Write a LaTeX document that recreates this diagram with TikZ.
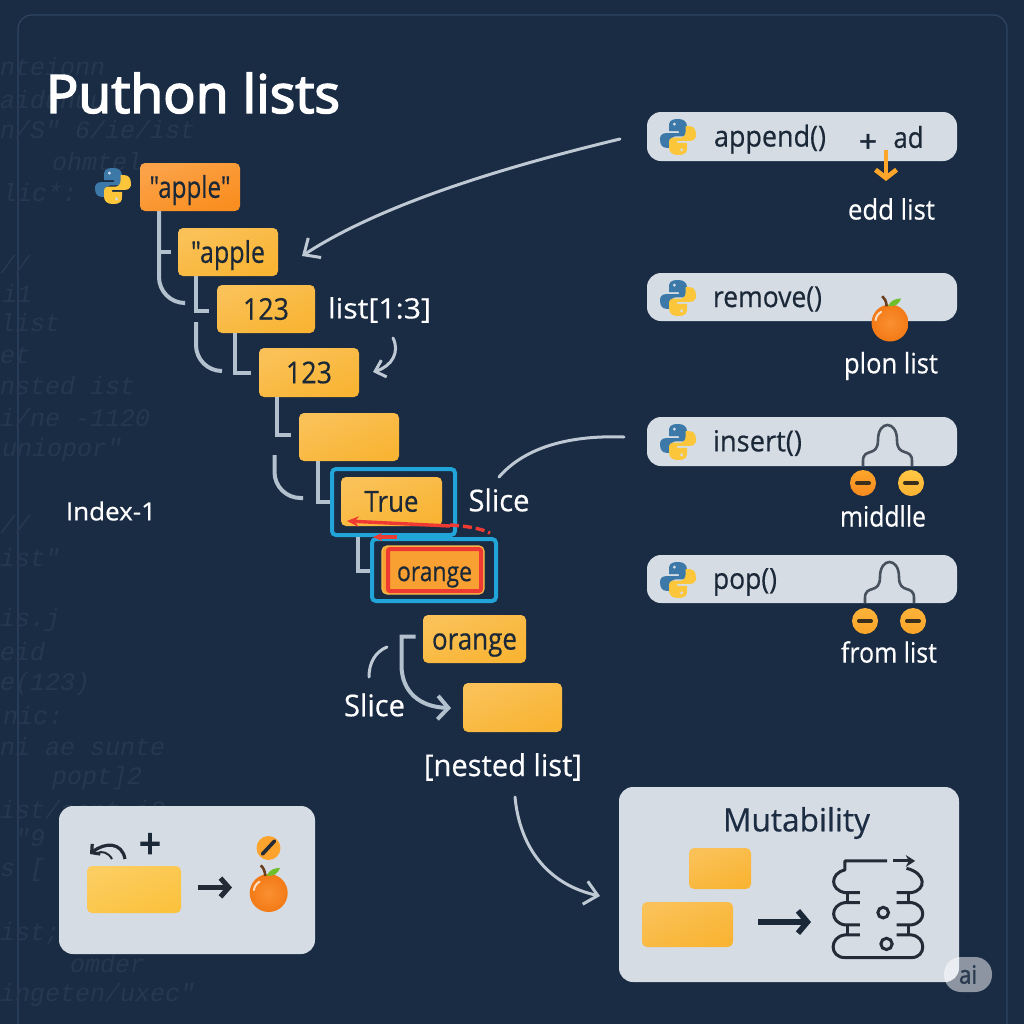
\documentclass[tikz,border=0pt]{standalone}
\usepackage{fontspec}
\usepackage{graphicx}
\newfontfamily\medf[FakeBold=0.5]{Open Sans}
\newfontfamily\heavyf[FakeBold=1.6]{Open Sans}
\newfontfamily\titlef[FakeBold=3]{Open Sans}
\newfontfamily\codefont{Liberation Mono}
\usetikzlibrary{arrows.meta,calc}
\newlength\px \setlength\px{0.03cm}
\newcommand\tx[3]{\resizebox{#1\px}{\height}{\medf\fontsize{#2\px}{#2\px}\selectfont #3}}
\newcommand\txh[3]{\resizebox{#1\px}{\height}{\heavyf\fontsize{#2\px}{#2\px}\selectfont #3}}
\newcommand\txt[3]{\resizebox{#1\px}{\height}{\titlef\fontsize{#2\px}{#2\px}\selectfont #3}}
\newsavebox\dnbox
\newcommand\dn[2]{\sbox\dnbox{#2}\hbox{\rule{0pt}{\dimexpr\ht\dnbox+2\dimexpr#1\px\relax\relax}\usebox\dnbox}}
\definecolor{bgc}{HTML}{1A2B44}
\definecolor{framec}{HTML}{2E4662}
\definecolor{codec}{HTML}{263850}
\definecolor{panelc}{HTML}{D5DCE4}
\definecolor{conn}{HTML}{B3C0CD}
\definecolor{inkc}{HTML}{1B2838}
\definecolor{blueb}{HTML}{21A5D8}
\definecolor{redb}{HTML}{EE3A33}
\definecolor{pyb}{HTML}{3C78A8}
\definecolor{pyy}{HTML}{FBC63A}
\definecolor{appleL}{HTML}{FB9030}
\definecolor{appleD}{HTML}{F27A16}
\definecolor{stemc}{HTML}{6B3F1E}
\definecolor{leafc}{HTML}{6FBF2C}
\definecolor{yelC}{HTML}{F9B433}
\definecolor{oraC}{HTML}{FA8E20}
\definecolor{oraF}{HTML}{F9A032}
\definecolor{oraE}{HTML}{F8BC4A}
\definecolor{arrowO}{HTML}{FBA52A}
\definecolor{iconK}{HTML}{222B36}
\definecolor{forkG}{HTML}{47525E}
\definecolor{minusK}{HTML}{3A2F1C}
\definecolor{dotOa}{HTML}{FDA52B}
\definecolor{dotOb}{HTML}{F58A1E}
\definecolor{dotYa}{HTML}{FFC845}
\definecolor{dotYb}{HTML}{FBB232}
\definecolor{dotMa}{HTML}{FCB23A}
\definecolor{dotMb}{HTML}{F9A528}
\definecolor{yelL}{HTML}{FBC23E}
\definecolor{dotS}{HTML}{FCA32E}
\definecolor{titleK}{HTML}{1C2C42}
\definecolor{arrK}{HTML}{1A2838}
\definecolor{aiK}{HTML}{2A3A50}
\tikzset{
 x=0.03cm,y=-0.03cm,
 code/.style={anchor=west,inner sep=0,text=codec,font=\codefont\itshape\fontsize{25\px}{25\px}\selectfont},
 ybox/.style={rounded corners=5\px,inner sep=0,text=inkc,top color=#1!82!white,bottom color=#1,shading angle=22},
 ybox/.default={yelC},
 sized/.style 2 args={minimum width=#1\px,minimum height=#2\px},
 panel/.style={rounded corners=14\px,fill=panelc,inner sep=0},
 wtext/.style={inner sep=0,text=white},
 dtext/.style={inner sep=0,text=inkc},
 link/.style={draw=conn,line width=4\px},
 thin link/.style={draw=conn!85!white,line width=3\px,line cap=round},
 open arrow/.style={-{Straight Barb[length=11pt,width=20pt]}},
 redline/.style={draw=redb,line width=3.4\px},
 iconline/.style={draw=#1,line width=2.6\px},
 iconline/.default={iconK},
 pics/pylogo/.style={code={
   \begin{scope}[scale=18]
   \foreach \rot/\col in {0/pyb,180/pyy}{
    \fill[\col,rotate=\rot] (0.02,-1) .. controls (-0.5,-1) and (-0.5,-0.8) .. (-0.5,-0.55) -- (-0.5,-0.32) -- (0.05,-0.32) -- (0.05,-0.22) -- (-0.65,-0.22) .. controls (-0.95,-0.22) and (-1,0) .. (-1,0.12) .. controls (-1,0.45) and (-0.85,0.6) .. (-0.65,0.6) -- (-0.42,0.6) -- (-0.42,0.3) .. controls (-0.42,0.1) and (-0.3,-0.04) .. (-0.1,-0.04) -- (0.3,-0.04) .. controls (0.45,-0.04) and (0.5,-0.15) .. (0.5,-0.28) -- (0.5,-0.6) .. controls (0.5,-0.85) and (0.3,-1) .. (0.02,-1) -- cycle;
    \fill[panelc,rotate=\rot] (-0.2,-0.72) circle[radius=0.09];
   }
   \end{scope}}},
 pics/applefruit/.style={code={
   \begin{scope}[scale=#1]
   \shade[inner color=appleL,outer color=appleD] (0,0) circle[radius=1];
   \draw[color=stemc,line width=2.6\px] (-0.18,-0.9) .. controls (-0.2,-1.2) and (-0.3,-1.35) .. (-0.42,-1.45);
   \fill[color=leafc] (-0.1,-0.92) .. controls (0.05,-1.25) and (0.3,-1.3) .. (0.6,-1.33) .. controls (0.5,-1.05) and (0.3,-0.85) .. (-0.1,-0.92) -- cycle;
   \draw[white,opacity=.75,line width=2\px,line cap=round] (-0.78,-0.15) .. controls (-0.75,-0.35) and (-0.65,-0.5) .. (-0.48,-0.6);
   \end{scope}}},
}
\begin{document}
\begin{tikzpicture}
\useasboundingbox[fill=bgc] (0,0) rectangle (1024,1024);
% frame
\draw[framec,line width=1.2\px] (18,1024) -- (18,29) .. controls (18,21) and (24,15) .. (32,15) -- (993,15) .. controls (1001,15) and (1007,21) .. (1007,29) -- (1007,1024);
% background code
\node[code] (bg1) at (0,67) {nteionn};
\node[code] (bg2) at (0,100) {aidunuu};
\node[code] (bg3) at (0,130) {n/S" 6/ie/ist};
\node[code] (bg4) at (52,162) {ohmtel};
\node[code] (bg5) at (2,193) {lic*:};
\node[code] (bg6) at (0,265) {//};
\node[code] (bg7) at (2,293) {i1};
\node[code] (bg8) at (0,323) {list};
\node[code] (bg9) at (0,355) {et};
\node[code] (bg10) at (0,386) {nsted ist};
\node[code] (bg11) at (0,418) {i/ne -1120};
\node[code] (bg12) at (2,450) {uniopor"};
\node[code] (bg13) at (0,525) {//};
\node[code] (bg14) at (0,558) {ist"};
\node[code] (bg15) at (0,620) {is.j};
\node[code] (bg16) at (0,652) {eid};
\node[code] (bg17) at (0,684) {e(123)};
\node[code] (bg18) at (3,716) {nic:};
\node[code] (bg19) at (0,747) {ni ae sunte};
\node[code] (bg20) at (52,778) {popt]2};
\node[code] (bg21) at (0,810) {ist/aent.i2};
\node[code] (bg22) at (15,838) {"9};
\node[code] (bg23) at (0,870) {s  [};
\node[code] (bg24) at (0,934) {ist;};
\node[code] (bg25) at (70,964) {omder};
\node[code] (bg26) at (0,995) {ingeten/uxec"};
% title
\node[wtext] (title) at (193,93) {\txt{294}{53}{Puthon lists}};
\node[wtext] (index) at (111,511) {\tx{90}{25}{Index-1}};
% chain boxes
\pic (logo0) at (113,186) {pylogo};
\node[ybox=oraC,sized={100}{48}] (a1) at (190,187) {\dn{3}{\tx{81}{30}{"apple"}}};
\node[ybox,sized={100}{48}] (a2) at (228,252) {\dn{3}{\tx{74}{30}{"apple}}};
\node[ybox,sized={98}{48}] (n1) at (266,309) {\tx{46}{30}{123}};
\node[ybox,sized={100}{49}] (n2) at (309,372.5) {\tx{46}{30}{123}};
\node[ybox,sized={100}{48}] (e1) at (349,437) {};
\node[ybox,sized={101}{49}] (t1) at (391.5,501.5) {\tx{54}{29}{True}};
\node[draw=blueb,line width=4\px,rounded corners=4\px,sized={123}{66},inner sep=0] (tb) at (393.5,502) {};
\node[fill=oraF,draw=oraE,line width=1.2\px,rounded corners=5\px,sized={102}{48},inner sep=0] (o1) at (433,570) {};
\node[draw=redb,line width=4\px,sized={93}{42},inner sep=0,rounded corners=2\px,text=inkc] (o1r) at (434.5,570) {\dn{7}{\tx{75}{27}{orange}}};
\node[draw=blueb,line width=4\px,rounded corners=4\px,sized={124}{62},inner sep=0] (ob) at (434,570) {};
\node[ybox,sized={103}{48}] (o2) at (474.5,639) {\dn{6}{\tx{85}{30}{orange}}};
\node[ybox,sized={99}{49}] (e2) at (512.5,707.5) {};
% connectors of the chain
\draw[link,rounded corners=26\px] (a1.south -| 159,0) -- (159,303) -- (184,303);
\draw[link] (160,252) -- (171,252);
\draw[link] (a2.south -| 196,0) -- (196,310.5) -- (209,310.5);
\draw[link,rounded corners=26\px] (196,322) -- (196,371) -- (222,371);
\draw[link] (n1.south -| 235,0) -- (235,373) -- (251,373);
\draw[link] (n2.south -| 277,0) -- (277,435) -- (291,435);
\draw[link,rounded corners=26\px] (274.5,455) -- (274.5,498) -- (303,498);
\draw[link] (e1.south -| 318,0) -- (318,502) -- (tb.west |- 0,502);
\draw[link] (tb.south -| 358,0) -- (358,571) -- (ob.west |- 0,571);
% bracket + arrow near orange
\coordinate (tipE2) at (451,708);
\draw[link,-{Straight Barb[length=9pt,width=20pt]}] (415.5,636.5) -- (401.5,636.5) -- (401.5,665) .. controls (401.5,692) and (420,707) .. (tipE2);
\draw[thin link] (387,647) .. controls (375,652) and (369,663) .. (369,677);
\node[wtext] (slice2) at (374.5,705) {\tx{61}{30}{Slice}};
\node[wtext] (nested) at (503,767) {\tx{158}{30}{[nested list]}};
\node[wtext] (rng) at (379.5,310) {\tx{103}{28}{list[1:3]}};
\node[wtext] (slice1) at (499,500) {\tx{61}{30}{Slice}};
% red arrows
\draw[redline,-{Stealth[length=10pt,width=9pt]}] (450,526) -- (347,521);
\draw[redline,dash pattern=on 9\px off 4\px] (450,525) .. controls (465,526) and (480,528) .. (490,533);
\draw[redline,dash pattern=on 17\px off 2\px,-{Stealth[length=8pt,width=7pt]}] (397,537) -- (373,537);
% right panels
\node[panel,sized={310}{49}] (p1) at (802,136.5) {};
\pic (logo1) at (678,137) {pylogo};
\node[dtext] (t1a) at (770,139) {\tx{112}{29}{append()}};
\node[dtext] (t1b) at (868,143) {\txh{18}{30}{+}};
\node[dtext] (t1c) at (908.5,137) {\tx{30}{29}{ad}};
\coordinate (tipA) at (886,181);
\draw[draw=arrowO,line width=4.8\px,-{Straight Barb[length=7pt,width=18pt]}] (886,150) -- (tipA);
\node[wtext] (l1) at (891.5,209) {\tx{87}{28}{edd list}};
\node[panel,sized={310}{48}] (p2) at (802,297) {};
\pic (logo2) at (678,298) {pylogo};
\node[dtext] (t2a) at (767.5,299) {\tx{109}{29}{remove()}};
\pic (ap1) at (890,323) {applefruit=18.5};
\node[wtext] (l2) at (891,366) {\tx{94}{28}{plon list}};
\node[panel,sized={310}{49}] (p3) at (802,441.5) {};
\pic (logo3) at (678,442) {pylogo};
\node[dtext] (t3a) at (757.5,443) {\tx{89}{29}{insert()}};
\draw[iconline=forkG] (863,466) -- (863,461) .. controls (863,447) and (878,458) .. (878,440) .. controls (878,420) and (897,420) .. (897,440) .. controls (897,458) and (912,447) .. (912,461) -- (912,466);
\node[circle,sized={26}{26},top color=dotOa,bottom color=dotOb,inner sep=0] (c1) at (863,483) {};
\node[circle,sized={26}{26},top color=dotYa,bottom color=dotYb,inner sep=0] (c2) at (911,483) {};
\draw[line width=4\px,color=minusK,line cap=round] (c1.center) ++(-6,0) -- ++(12,0);
\draw[line width=4\px,color=minusK,line cap=round] (c2.center) ++(-6,0) -- ++(12,0);
\node[wtext] (l3) at (883,516) {\tx{86}{28}{middlle}};
\node[panel,sized={310}{48}] (p4) at (802,579) {};
\pic (logo4) at (678,580) {pylogo};
\node[dtext] (t4a) at (745,582) {\tx{64}{29}{pop()}};
\draw[iconline=forkG] (865,603) -- (865,598) .. controls (865,584) and (880,595) .. (880,577) .. controls (880,557) and (899,557) .. (899,577) .. controls (899,595) and (914,584) .. (914,598) -- (914,603);
\node[circle,sized={26}{26},top color=dotMa,bottom color=dotMb,inner sep=0] (c3) at (865,621) {};
\node[circle,sized={26}{26},top color=dotMa,bottom color=dotMb,inner sep=0] (c4) at (913,621) {};
\draw[line width=4\px,color=minusK,line cap=round] (c3.center) ++(-6,0) -- ++(12,0);
\draw[line width=4\px,color=minusK,line cap=round] (c4.center) ++(-6,0) -- ++(12,0);
\node[wtext] (l4) at (889,652) {\tx{96}{28}{from list}};
% long curves
\coordinate (tipL) at (302,256);
\coordinate (tipS) at (373,372);
\coordinate (tipM) at (600,896);
\draw[thin link,open arrow] (620,139) .. controls (500,168) and (380,205) .. (tipL);
\draw[thin link] (624,437) .. controls (570,435) and (525,447) .. (499,477);
\draw[thin link,-{Straight Barb[length=8pt,width=15pt]}] (393,338) .. controls (400,352) and (392,366) .. (tipS);
\draw[thin link,open arrow] (515,797) .. controls (520,850) and (550,885) .. (tipM);
% lower-left panel
\node[panel,sized={256}{148}] (p5) at (187,880) {};
\node[ybox=yelL,sized={94}{47}] (y5) at (134,889.5) {};
\node[dtext] (plus) at (150,846) {\txt{22}{42}{+}};
\draw[iconline=iconK,line width=3.2\px,-{Straight Barb[length=5pt,width=11pt]}] (125,859) .. controls (122,842) and (105,842) .. (90,854);
\draw[iconline=iconK,line width=2\px] (112,859) .. controls (108,852) and (102,851) .. (97,853);
\draw[iconline=iconK,line width=5\px,-{Straight Barb[length=7pt,width=16pt]}] (198,887.5) -- (232,887.5);
\node[circle,sized={24}{24},fill=dotS,inner sep=0] (c5) at (268.5,848) {};
\draw[line width=3.6\px,color=iconK,line cap=round] ([shift={(-6,6)}]c5.center) -- ([shift={(6,-7)}]c5.center);
\pic (ap2) at (268.7,893) {applefruit=19};
% Mutability panel
\node[panel,sized={340}{195}] (p6) at (789,884.5) {};
\node[text=titleK,inner sep=0] (mt) at (796.5,823) {\tx{147}{32}{Mutability}};
\node[ybox,sized={62}{41}] (y6) at (720,868.5) {};
\node[ybox,sized={91}{45}] (y7) at (687.5,924.5) {};
\draw[iconline=arrK,line width=5.6\px,-{Straight Barb[length=8pt,width=19pt]}] (758,922) -- (811,922);
\begin{scope}[shift={(610,780)},x=0.01cm,y=-0.01cm]
\tikzset{every path/.style={draw=iconK,line width=3\px}}
\draw[line join=round] (832,243) -- (705,243) -- (705,270) .. controls (660,280) and (660,330) .. (705,338) -- (750,338);
\draw (712,338) -- (712,368);
\draw (750,368) -- (705,368) .. controls (660,375) and (660,428) .. (705,435) -- (750,435);
\draw (712,435) -- (712,465);
\draw (750,465) -- (705,465) .. controls (658,470) and (658,533) .. (705,533) -- (905,533) .. controls (950,533) and (950,470) .. (905,465) -- (860,465);
\draw (897,435) -- (897,465);
\draw (860,435) -- (905,435) .. controls (950,428) and (950,375) .. (905,368) -- (860,368);
\draw (897,338) -- (897,368);
\draw (860,338) -- (905,338) .. controls (950,330) and (950,280) .. (890,265);
\draw[-{Stealth[length=8pt,width=10pt]}] (850,243) -- (916,243);
\draw (820,398) circle[radius=16];
\draw (830,492) circle[radius=17];
\end{scope}
% ai badge
\node[rounded corners=17\px,fill=white,fill opacity=.5,text opacity=1,sized={48}{35},inner sep=0,text=aiK] (ai) at (968,974.5) {\txh{18}{25}{ai}};
\end{tikzpicture}
\end{document}
